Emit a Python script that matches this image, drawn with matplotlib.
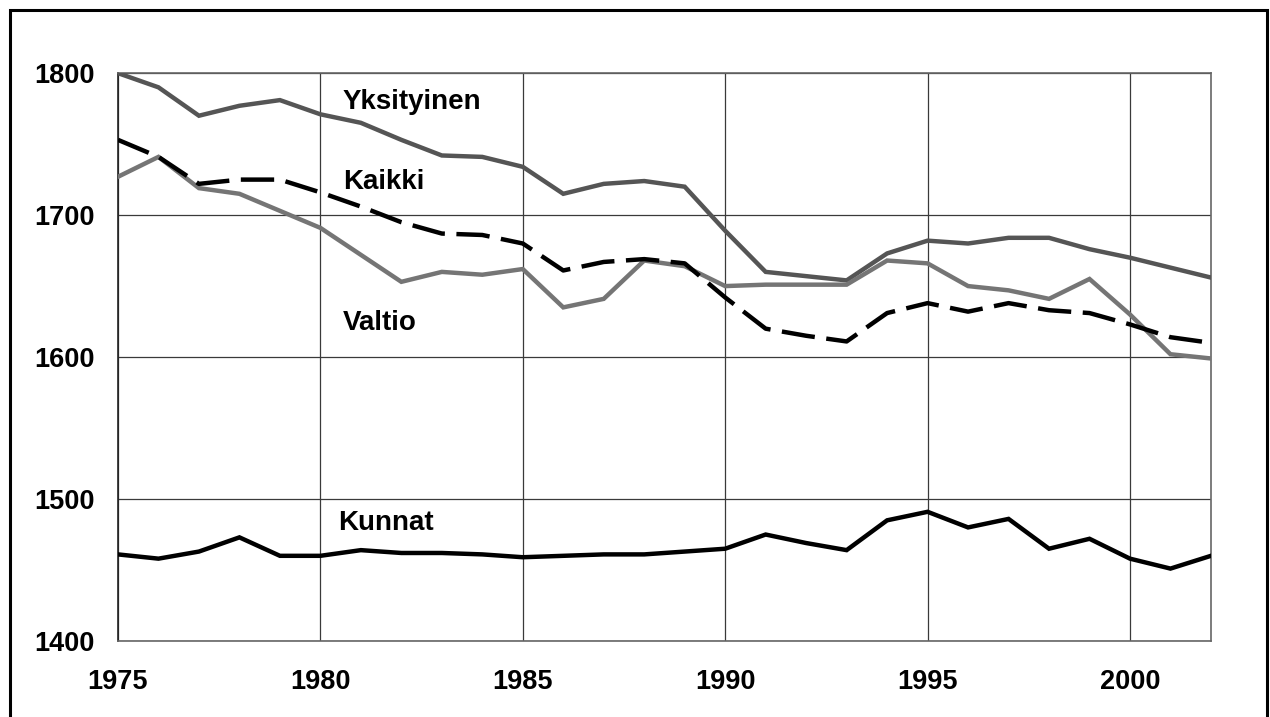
import matplotlib
matplotlib.use("Agg")
import matplotlib.pyplot as plt
from matplotlib.patches import Rectangle

# annual working hours by sector
years = list(range(1975, 2003))
yksityinen = [1800, 1790, 1770, 1777, 1781, 1771, 1765, 1753, 1742, 1741,
              1734, 1715, 1722, 1724, 1720, 1689, 1660, 1657, 1654, 1673,
              1682, 1680, 1684, 1684, 1676, 1670, 1663, 1656]
kaikki = [1753, 1741, 1722, 1725, 1725, 1716, 1706, 1695, 1687, 1686,
          1680, 1661, 1667, 1669, 1666, 1642, 1620, 1615, 1611, 1631,
          1638, 1632, 1638, 1633, 1631, 1623, 1614, 1610]
valtio = [1727, 1741, 1719, 1715, 1703, 1691, 1672, 1653, 1660, 1658,
          1662, 1635, 1641, 1668, 1664, 1650, 1651, 1651, 1651, 1668,
          1666, 1650, 1647, 1641, 1655, 1630, 1602, 1599]
kunnat = [1461, 1458, 1463, 1473, 1460, 1460, 1464, 1462, 1462, 1461,
          1459, 1460, 1461, 1461, 1463, 1465, 1475, 1469, 1464, 1485,
          1491, 1480, 1486, 1465, 1472, 1458, 1451, 1460]

x_ticks = [1975, 1980, 1985, 1990, 1995, 2000]
y_ticks = [1400, 1500, 1600, 1700, 1800]

plt.rcParams['font.family'] = ['Liberation Sans', 'DejaVu Sans']

fig = plt.figure(figsize=(12.7, 7.17), dpi=100)
ax = fig.add_axes([0.0929, 0.106, 0.8606, 0.792])

ax.plot(years, yksityinen, color='#555555', lw=3.2, solid_joinstyle='miter', zorder=3)
ax.plot(years, valtio, color='#757575', lw=3.2, solid_joinstyle='miter', zorder=3)
ax.plot(years, kaikki, color='black', lw=3.2, dashes=(7.5, 2.6),
        dash_capstyle='butt', zorder=4)
ax.plot(years, kunnat, color='black', lw=3.2, solid_joinstyle='miter', zorder=3)

ax.set_xlim(1975, 2002)
ax.set_ylim(1400, 1800)
ax.set_xticks(x_ticks)
ax.set_yticks(y_ticks)
ax.grid(True, color='#3a3a3a', lw=0.9)
ax.set_axisbelow(True)
ax.tick_params(length=0, labelsize=19.5)
ax.tick_params(axis='x', pad=20.5)
ax.tick_params(axis='y', pad=16.5)
for lbl in ax.get_xticklabels() + ax.get_yticklabels():
    lbl.set_fontweight('bold')
for side in ['top', 'right', 'bottom', 'left']:
    ax.spines[side].set_color('#666666')
    ax.spines[side].set_linewidth(1.2)
ax.spines['left'].set_color('#222222')

# series names written straight into the plot
lbl_kw = dict(fontsize=20, fontweight='bold', ha='left', va='center')
ax.text(1980.55, 1780, 'Yksityinen', **lbl_kw)
ax.text(1980.55, 1723, 'Kaikki', **lbl_kw)
ax.text(1980.55, 1624, 'Valtio', **lbl_kw)
ax.text(1980.45, 1483, 'Kunnat', **lbl_kw)

# outer chart frame
fig.patches.append(Rectangle((10 / 1270, -0.02), 1257 / 1270, 1.02 - 10 / 717,
                             transform=fig.transFigure, fill=False,
                             edgecolor='black', lw=2.2))

fig.savefig('out.png', dpi=100)
